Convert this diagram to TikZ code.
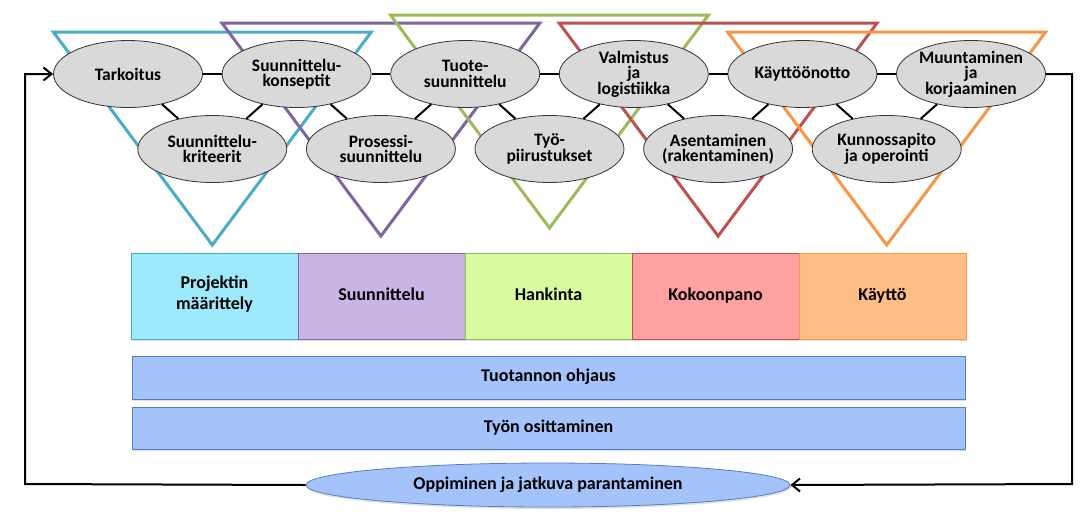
\documentclass[tikz,border=0pt]{standalone}
\usepackage{fontspec}
\setmainfont{Carlito}
\usetikzlibrary{positioning, arrows.meta, calc, backgrounds, shapes.geometric, shadows}

\definecolor{tcyan}{HTML}{4BACC6}
\definecolor{tpurple}{HTML}{8064A2}
\definecolor{tgreen}{HTML}{9BBB59}
\definecolor{tred}{HTML}{C0504D}
\definecolor{torange}{HTML}{F79646}
\definecolor{fcyan}{HTML}{9DEAFC}
\definecolor{fpurple}{HTML}{C9B4E6}
\definecolor{fgreen}{HTML}{D8FBA0}
\definecolor{fred}{HTML}{FFA1A1}
\definecolor{forange}{HTML}{FFBE85}
\definecolor{barfill}{HTML}{A4C3FB}
\definecolor{barline}{HTML}{4F81BD}

\begin{document}
\begin{tikzpicture}[
        % ----- global -----
        x=1pt, y=-1pt,
        >={Straight Barb[length=8pt,width=13pt]},
        node distance=168.6pt, on grid,
        % ellipses of the life cycle
        oval/.style={ellipse, draw=black!80, fill=black!15, line width=0.8pt,
            minimum width=149pt, minimum height=67pt, inner xsep=-12pt, inner ysep=-10pt,
            align=center, font={\bfseries\fontsize{17.5}{15.5}\selectfont\lineskiplimit=-20pt}},
        tri/.style={line width=3pt, line join=miter},
        link/.style={line width=2pt},
        % phases and bars
        phase/.style={rectangle, draw, line width=0.8pt, minimum width=167pt, minimum height=86pt,
            align=center, font={\bfseries\fontsize{18}{21.5}\selectfont},
            execute at begin node=\strut,
            drop shadow={shadow xshift=1pt, shadow yshift=-2pt, opacity=0.25}},
        bar/.style={rectangle, draw=barline, fill=barfill, line width=0.8pt, minimum width=833pt,
            font={\bfseries\fontsize{18}{21.5}\selectfont}, execute at begin node=\strut,
            drop shadow={shadow xshift=1pt, shadow yshift=-2pt, opacity=0.25}},
        loopline/.style={line width=2pt, ->}
    ]
    \useasboundingbox (0,0) rectangle (1091,515);

    % ----- ellipses -----
    \node[oval] (tark) at (128,74) {Tarkoitus};
    \node[oval, right=of tark] (konsept) {Suunnittelu-\\konseptit};
    \node[oval, right=of konsept] (tuote) {Tuote-\\suunnittelu};
    \node[oval, right=of tuote] (valm) {Valmistus\\ja\\logistiikka};
    \node[oval, right=of valm] (kayt) {Käyttöönotto};
    \node[oval, right=of kayt] (muunt) {Muuntaminen\\ja\\korjaaminen};

    \node[oval, below right=75pt and 84.3pt of tark] (krit) {Suunnittelu-\\kriteerit};
    \node[oval, right=of krit] (pros) {Prosessi-\\suunnittelu};
    \node[oval, right=of pros] (tyo) {Työ-\\piirustukset};
    \node[oval, right=of tyo] (asent) {Asentaminen\\(rakentaminen)};
    \node[oval, right=of asent] (kunn) {Kunnossapito\\ja operointi};

    % ----- triangles -----
    \begin{scope}[on background layer]
        \foreach \n/\c/\h in {krit/tcyan/117, pros/tpurple/126, tyo/tgreen/134, asent/tred/126, kunn/torange/117}
            \draw[tri, draw=\c] ($(\n)+(-159,-\h)$) -- ($(\n)+(159,-\h)$) -- ($(\n)+(0,213-\h)$) -- cycle;
    \end{scope}

    % ----- links -----
    \path[link]
    (tark) edge (konsept)
    (konsept) edge (tuote)
    (tuote) edge (valm)
    (valm) edge (kayt)
    (kayt) edge (muunt)
    (tark) edge (krit)
    (konsept) edge (krit)
    (konsept) edge (pros)
    (tuote) edge (pros)
    (tuote) edge (tyo)
    (valm) edge (tyo)
    (valm) edge (asent)
    (kayt) edge (asent)
    (kayt) edge (kunn)
    (muunt) edge (kunn);

    % ----- phases -----
    \node[phase, draw=tcyan, fill=fcyan] (p-maar) at (214.5,296) {Projektin\\määrittely};
    \node[phase, draw=tpurple, fill=fpurple, right=167pt of p-maar] (p-suun) {Suunnittelu};
    \node[phase, draw=tgreen, fill=fgreen, right=167pt of p-suun] (p-hank) {Hankinta};
    \node[phase, draw=tred, fill=fred, right=167pt of p-hank] (p-koko) {Kokoonpano};
    \node[phase, draw=torange, fill=forange, right=167pt of p-koko] (p-kaytto) {Käyttö};

    \node[bar, minimum height=43pt] (ohjaus) at (548.5,377.5) {Tuotannon ohjaus};
    \node[bar, minimum height=42pt, below=50.5pt of ohjaus] (osit) {Työn osittaminen};

    \node[ellipse, draw=barline, fill=barfill, line width=0.8pt, minimum width=484pt, minimum height=44pt,
        inner sep=0pt, font={\bfseries\fontsize{18}{21.5}\selectfont}, execute at begin node=\strut,
        drop shadow={shadow xshift=1pt, shadow yshift=-2pt, opacity=0.25}] (opp) at (548,485)
        {Oppiminen ja jatkuva parantaminen};

    % ----- loop -----
    \coordinate (rloop) at (1072,484);
    \coordinate (lloop) at (25,484);
    \draw[loopline] (muunt.east) -| (rloop) -- (opp.east);
    \draw[loopline] (opp.west) -- (lloop) |- (tark.west);
\end{tikzpicture}
\end{document}
